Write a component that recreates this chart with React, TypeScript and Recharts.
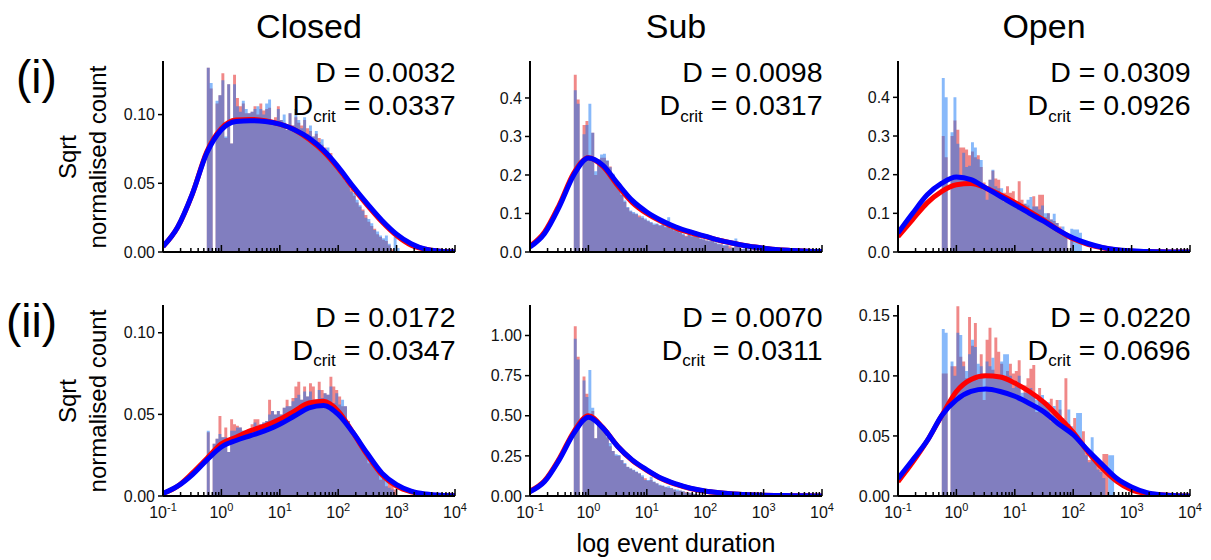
import { ComposedChart, Area, Line, XAxis, YAxis } from 'recharts';

const FONT = '"Liberation Sans", Arial, Helvetica, sans-serif';

// histogram bins are log10 spaced: first bin starts at 10^-0.25, width 0.05 decade
const BIN_START = -0.25;
const BIN_WIDTH = 0.05;

// sample points (log10 duration) of the fitted curves
const fitX = [-1, -0.75, -0.5, -0.25, 0, 0.25, 0.5, 0.75, 1, 1.25, 1.5, 1.75, 2, 2.25, 2.5, 2.75, 3, 3.25, 3.5, 3.75, 4];

const majorTicks = [-1, 0, 1, 2, 3, 4];
const minorSteps = [2, 3, 4, 5, 6, 7, 8, 9];

const titles = ['Closed', 'Sub', 'Open'];
const rowLabels = ['(i)', '(ii)'];

// ---- Closed (i)
const closedBlueI = [0.134, 0.123, 0, 0.110, 0.114, 0.125, 0.084, 0.122, 0.079, 0.122,
  0.106, 0.102, 0.110, 0.104, 0.101, 0.102, 0.104, 0.106, 0.104, 0.100,
  0.108, 0.111, 0.096, 0.095, 0.104, 0.096, 0.100, 0.089, 0.101, 0.092,
  0.104, 0.096, 0.090, 0.098, 0.086, 0.092, 0.084, 0.088, 0.080, 0.082,
  0.074, 0.076, 0.070, 0.066, 0.064, 0.060, 0.057, 0.054, 0.050, 0.044,
  0.043, 0.038, 0.034, 0.030, 0.025, 0.024, 0.021, 0.016, 0.015, 0.012,
  0.010, 0.012, 0.006, 0, 0.011, 0.003];
const closedRedI = [0.134, 0.119, 0, 0.108, 0.114, 0.130, 0.083, 0.122, 0.079, 0.129,
  0.112, 0.106, 0.108, 0.101, 0.101, 0.102, 0.106, 0.100, 0.108, 0.103,
  0.104, 0.105, 0.094, 0.098, 0.106, 0.096, 0.094, 0.089, 0.101, 0.092,
  0.098, 0.094, 0.092, 0.096, 0.090, 0.088, 0.084, 0.086, 0.083, 0.078,
  0.076, 0.072, 0.072, 0.064, 0.062, 0.061, 0.055, 0.052, 0.051, 0.046,
  0.041, 0.036, 0.033, 0.031, 0.027, 0.022, 0.019, 0.017, 0.013, 0.011,
  0.009, 0.008, 0.005, 0.002, 0, 0];
const closedFitBlueI = [0.004, 0.018, 0.042, 0.072, 0.089, 0.095, 0.0955, 0.095, 0.093, 0.089, 0.083, 0.074, 0.062, 0.048, 0.035, 0.023, 0.013, 0.006, 0.002, 0.0006, 0.0001];
const closedFitRedI = [0.004, 0.018, 0.042, 0.073, 0.090, 0.096, 0.0965, 0.0955, 0.093, 0.089, 0.082, 0.073, 0.061, 0.047, 0.034, 0.022, 0.012, 0.005, 0.002, 0.0005, 0.0001];

// ---- Sub (i)
const subBlueI = [0.42, 0.385, 0, 0.306, 0.33, 0.385, 0.31, 0.21, 0.24, 0.253,
  0.255, 0.238, 0.22, 0.203, 0.186, 0.173, 0.15, 0.134, 0.117, 0.108,
  0.104, 0.10, 0.09, 0.093, 0.087, 0.082, 0.078, 0.074, 0.074, 0.07,
  0.075, 0.066, 0.09, 0.062, 0.058, 0.055, 0.053, 0.048, 0.04, 0.05,
  0.042, 0.04, 0.04, 0.036, 0.034, 0.03, 0.03, 0.04, 0.025, 0.022,
  0.02, 0.018, 0.018, 0.01, 0.012, 0.035, 0.015, 0.008, 0.01, 0.008,
  0.006, 0.004, 0.006, 0.003, 0.008, 0.004, 0.015, 0.003];
const subRedI = [0.46, 0.396, 0, 0.33, 0.34, 0.24, 0.31, 0.20, 0.24, 0.245,
  0.245, 0.236, 0.222, 0.2, 0.182, 0.17, 0.148, 0.13, 0.115, 0.105,
  0.1, 0.098, 0.095, 0.088, 0.084, 0.08, 0.076, 0.07, 0.072, 0.068,
  0.07, 0.064, 0.07, 0.06, 0.056, 0.054, 0.05, 0.045, 0.042, 0.05,
  0.04, 0.042, 0.045, 0.034, 0.032, 0.03, 0.028, 0.03, 0.024, 0.02,
  0.02, 0.016, 0.016, 0.015, 0.012, 0.02, 0.025, 0.008, 0.008, 0.006,
  0.006, 0.004, 0.005, 0.002, 0.004, 0.003, 0, 0];
const subFitBlueI = [0.013, 0.048, 0.117, 0.2, 0.244, 0.225, 0.178, 0.134, 0.104, 0.082, 0.065, 0.052, 0.041, 0.03, 0.022, 0.015, 0.01, 0.006, 0.004, 0.002, 0.001];
const subFitRedI = [0.015, 0.052, 0.122, 0.205, 0.245, 0.222, 0.173, 0.129, 0.1, 0.079, 0.062, 0.05, 0.04, 0.03, 0.022, 0.015, 0.01, 0.006, 0.004, 0.002, 0.001];

// ---- Open (i)
const openBlueI = [0.45, 0.40, 0, 0.31, 0.40, 0.28, 0.20, 0.257, 0.22, 0.223,
  0.284, 0.27, 0.24, 0.238, 0.16, 0.135, 0.187, 0.213, 0.17, 0.165,
  0.165, 0.13, 0.14, 0.13, 0.13, 0.12, 0.13, 0.11, 0.125, 0.135,
  0.142, 0.118, 0.118, 0.11, 0.12, 0.10, 0.10, 0.084, 0.099, 0.075,
  0.06, 0.066, 0.045, 0, 0.06, 0.058, 0.058, 0.05];
const openRedI = [0.30, 0.245, 0, 0.30, 0.34, 0.316, 0.27, 0.27, 0.265, 0.25,
  0.26, 0.245, 0.25, 0.22, 0.18, 0.17, 0.187, 0.21, 0.19, 0.187,
  0.15, 0.153, 0.17, 0.153, 0.157, 0.12, 0.183, 0.135, 0.125, 0.12,
  0.11, 0.144, 0.118, 0.148, 0.148, 0.09, 0.1, 0.084, 0.08, 0.075,
  0.066, 0.05, 0.045, 0, 0.04, 0, 0, 0];
const openFitBlueI = [0.049, 0.10, 0.148, 0.178, 0.194, 0.187, 0.166, 0.144, 0.122, 0.10, 0.079, 0.056, 0.036, 0.022, 0.012, 0.006, 0.003, 0.001, 0.0005, 0.0002, 0.0001];
const openFitRedI = [0.04, 0.084, 0.127, 0.157, 0.174, 0.177, 0.166, 0.148, 0.128, 0.105, 0.082, 0.056, 0.034, 0.02, 0.011, 0.005, 0.002, 0.001, 0.0005, 0.0002, 0.0001];

// ---- Closed (ii)
const closedBlueII = [0.040, 0, 0.032, 0.035, 0.038, 0.036, 0.036, 0.027, 0.040, 0.040,
  0.042, 0.042, 0.040, 0.038, 0.041, 0.041, 0.045, 0.043, 0.044, 0.045,
  0.046, 0.050, 0.052, 0.050, 0.052, 0.050, 0.054, 0.055, 0.055, 0.058,
  0.060, 0.062, 0.059, 0.064, 0.061, 0.064, 0.059, 0.059, 0.065, 0.060,
  0.063, 0.062, 0.067, 0.057, 0.063, 0.056, 0.059, 0.055, 0.046, 0.040,
  0.038, 0.035, 0.032, 0.028, 0.026, 0.024, 0.020, 0.018, 0.018, 0.014,
  0.011, 0.012, 0.005, 0.004, 0];
const closedRedII = [0.039, 0, 0.032, 0.035, 0.049, 0.036, 0.042, 0.027, 0.047, 0.044,
  0.043, 0.042, 0.040, 0.040, 0.041, 0.044, 0.047, 0.047, 0.044, 0.045,
  0.046, 0.059, 0.052, 0.050, 0.052, 0.050, 0.054, 0.059, 0.055, 0.060,
  0.067, 0.070, 0.059, 0.067, 0.061, 0.069, 0.067, 0.059, 0.070, 0.065,
  0.063, 0.062, 0.073, 0.067, 0.065, 0.061, 0.055, 0.055, 0.046, 0.040,
  0.038, 0.035, 0.032, 0.030, 0.026, 0.020, 0.020, 0.018, 0.016, 0.010,
  0.011, 0.006, 0.009, 0.008, 0.004];
const closedFitBlueII = [0.0015, 0.006, 0.013, 0.022, 0.030, 0.034, 0.037, 0.040, 0.044, 0.049, 0.054, 0.0555, 0.050, 0.039, 0.026, 0.014, 0.007, 0.003, 0.0012, 0.0004, 0.0001];
const closedFitRedII = [0.0015, 0.006, 0.014, 0.023, 0.032, 0.036, 0.040, 0.043, 0.047, 0.052, 0.057, 0.058, 0.052, 0.039, 0.025, 0.013, 0.006, 0.0025, 0.001, 0.0003, 0.0001];

// ---- Sub (ii)
const subBlueII = [0.98, 0.85, 0, 0.72, 0.617, 0.785, 0.55, 0.36, 0.45, 0.445,
  0.40, 0.37, 0.33, 0.28, 0.26, 0.256, 0.225, 0.205, 0.183, 0.173,
  0.163, 0.152, 0.142, 0.13, 0.10, 0.10, 0.12, 0.09, 0.08, 0.07,
  0.065, 0.058, 0.06, 0.05, 0.04, 0.04, 0.035, 0.03, 0.02, 0.02,
  0.017, 0.012, 0.01, 0.008, 0.006, 0.004, 0.003, 0.004, 0.002, 0.002, 0.001];
const subRedII = [1.058, 0.867, 0, 0.745, 0.637, 0.50, 0.53, 0.36, 0.45, 0.44,
  0.40, 0.365, 0.31, 0.28, 0.25, 0.25, 0.222, 0.2, 0.18, 0.17,
  0.16, 0.15, 0.14, 0.12, 0.11, 0.095, 0.1, 0.088, 0.078, 0.065,
  0.062, 0.055, 0.05, 0.048, 0.04, 0.03, 0.033, 0.028, 0.025, 0.02,
  0.015, 0.012, 0.009, 0.007, 0.005, 0.004, 0.003, 0.002, 0.002, 0.001, 0.001];
const subFitBlueII = [0.027, 0.09, 0.225, 0.39, 0.49, 0.423, 0.31, 0.225, 0.163, 0.11, 0.075, 0.048, 0.031, 0.02, 0.012, 0.008, 0.005, 0.003, 0.002, 0.001, 0.0005];
const subFitRedII = [0.03, 0.095, 0.232, 0.4, 0.50, 0.425, 0.31, 0.222, 0.16, 0.108, 0.073, 0.047, 0.03, 0.02, 0.012, 0.008, 0.005, 0.003, 0.002, 0.001, 0.0005];

// ---- Open (ii)
const openBlueII = [0.139, 0.136, 0, 0.112, 0.100, 0.136, 0.134, 0.108, 0.104, 0.118,
  0.130, 0.124, 0.110, 0.108, 0.100, 0.112, 0.108, 0.115, 0.100, 0.098,
  0.112, 0.118, 0.118, 0.100, 0.090, 0.092, 0.100, 0.086, 0.086, 0.088,
  0.090, 0.086, 0.080, 0.082, 0.084, 0.076, 0.078, 0.062, 0.075, 0.066,
  0.080, 0.065, 0.062, 0.072, 0.058, 0.050, 0.069, 0.069, 0.040, 0.034,
  0.028, 0.049, 0.030, 0.022, 0.020, 0.015, 0, 0.034, 0.034];
const openRedII = [0.102, 0.102, 0, 0.108, 0.108, 0.158, 0.116, 0.112, 0.098, 0.149,
  0.125, 0.144, 0.100, 0.118, 0.080, 0.130, 0.140, 0.105, 0.132, 0.120,
  0.110, 0.100, 0.104, 0.110, 0.102, 0.104, 0.113, 0.080, 0.092, 0.098,
  0.106, 0.109, 0.070, 0.090, 0.080, 0.078, 0.075, 0.081, 0.070, 0.080,
  0.072, 0.060, 0.098, 0.060, 0.055, 0.065, 0.048, 0.044, 0.054, 0.036,
  0.030, 0.032, 0.030, 0.028, 0.022, 0.035, 0.035, 0, 0];
const openFitBlueII = [0.0145, 0.03, 0.046, 0.067, 0.08, 0.087, 0.089, 0.087, 0.083, 0.077, 0.07, 0.06, 0.051, 0.038, 0.026, 0.0145, 0.0075, 0.003, 0.001, 0.0003, 0.0001];
const openFitRedII = [0.012, 0.028, 0.046, 0.067, 0.087, 0.097, 0.1, 0.099, 0.094, 0.087, 0.078, 0.066, 0.053, 0.037, 0.023, 0.012, 0.005, 0.002, 0.001, 0.0003, 0.0001];

const dValues = [['0.0032', '0.0098', '0.0309'], ['0.0172', '0.0070', '0.0220']];
const dCritValues = [['0.0337', '0.0317', '0.0926'], ['0.0347', '0.0311', '0.0696']];

const xTicks: number[] = [];
majorTicks.forEach((m) => {
  xTicks.push(m);
  if (m < 4) minorSteps.forEach((s) => xTicks.push(m + Math.log10(s)));
});

function toSteps(values: number[]) {
  const pts = values.map((v, i) => ({ x: BIN_START + i * BIN_WIDTH, y: v }));
  pts.push({ x: BIN_START + values.length * BIN_WIDTH, y: values[values.length - 1] });
  return pts;
}

function toFit(values: number[]) {
  return fitX.map((x, i) => ({ x, y: values[i] }));
}

const colLeft = [163, 530, 898];
const rowTop = [61, 305];
const PLOT_W = 292;
const PLOT_H = 191;
const Y_AXIS_W = 60;

const panels = [
  { row: 0, col: 0, yMax: 0.139, yTicks: [0, 0.05, 0.1], digits: 2, red: closedRedI, blue: closedBlueI, fitRed: closedFitRedI, fitBlue: closedFitBlueI },
  { row: 0, col: 1, yMax: 0.496, yTicks: [0, 0.1, 0.2, 0.3, 0.4], digits: 1, red: subRedI, blue: subBlueI, fitRed: subFitRedI, fitBlue: subFitBlueI },
  { row: 0, col: 2, yMax: 0.494, yTicks: [0, 0.1, 0.2, 0.3, 0.4], digits: 1, red: openRedI, blue: openBlueI, fitRed: openFitRedI, fitBlue: openFitBlueI },
  { row: 1, col: 0, yMax: 0.117, yTicks: [0, 0.05, 0.1], digits: 2, red: closedRedII, blue: closedBlueII, fitRed: closedFitRedII, fitBlue: closedFitBlueII },
  { row: 1, col: 1, yMax: 1.19, yTicks: [0, 0.25, 0.5, 0.75, 1], digits: 2, red: subRedII, blue: subBlueII, fitRed: subFitRedII, fitBlue: subFitBlueII },
  { row: 1, col: 2, yMax: 0.159, yTicks: [0, 0.05, 0.1, 0.15], digits: 2, red: openRedII, blue: openBlueII, fitRed: openFitRedII, fitBlue: openFitBlueII },
];

function XTick(props: any) {
  const { x, y, payload, showLabel } = props;
  const v = payload.value;
  const major = Math.abs(v - Math.round(v)) < 1e-6;
  return (
    <g>
      <line x1={x} x2={x} y1={y} y2={y - (major ? 7 : 4)} stroke="#000" strokeWidth={1.5} />
      {showLabel && major && (
        <text x={x} y={y + 22} textAnchor="middle" fontSize={16} fill="#111" fontFamily={FONT}>
          10<tspan dy={-7} fontSize={11}>{String(Math.round(v))}</tspan>
        </text>
      )}
    </g>
  );
}

function Panel({ p }: { p: (typeof panels)[number] }) {
  const left = colLeft[p.col] - Y_AXIS_W;
  const top = rowTop[p.row] - 10;
  return (
    <div style={{ position: 'absolute', left, top }}>
      <ComposedChart width={Y_AXIS_W + PLOT_W + 20} height={10 + PLOT_H + 40} margin={{ top: 10, right: 20, bottom: 0, left: 0 }}>
        <Area data={toSteps(p.red)} dataKey="y" type="stepAfter" stroke="none" fill="#e11212" fillOpacity={0.5} isAnimationActive={false} />
        <Area data={toSteps(p.blue)} dataKey="y" type="stepAfter" stroke="none" fill="#1273f5" fillOpacity={0.5} isAnimationActive={false} />
        <Line data={toFit(p.fitRed)} dataKey="y" type="monotone" stroke="#ff0000" strokeWidth={5} dot={false} isAnimationActive={false} />
        <Line data={toFit(p.fitBlue)} dataKey="y" type="monotone" stroke="#0000ff" strokeWidth={5} dot={false} isAnimationActive={false} />
        <XAxis
          dataKey="x"
          type="number"
          domain={[-1, 4]}
          ticks={xTicks}
          interval={0}
          allowDataOverflow
          height={40}
          tickSize={0}
          tickMargin={0}
          tickLine={false}
          axisLine={{ stroke: '#000', strokeWidth: 2 }}
          tick={(tp: any) => <XTick {...tp} showLabel={p.row === 1} />}
        />
        <YAxis
          type="number"
          domain={[0, p.yMax]}
          ticks={p.yTicks}
          interval={0}
          allowDataOverflow
          width={Y_AXIS_W}
          tickSize={5}
          tickMargin={3}
          tickFormatter={(v: number) => v.toFixed(p.digits)}
          axisLine={{ stroke: '#000', strokeWidth: 2 }}
          tickLine={{ stroke: '#000', strokeWidth: 1.5 }}
          tick={{ fill: '#111', fontSize: 16, fontFamily: FONT }}
        />
      </ComposedChart>
    </div>
  );
}

export default function App() {
  const dBase = [81.7, 327];
  const dCritBase = [115, 359.5];
  const yLabelMid = [157, 401];
  return (
    <div style={{ position: 'absolute', left: 0, top: 0, width: 1211, height: 560, background: '#fff', fontFamily: FONT, overflow: 'hidden' }}>
      {panels.map((p, i) => (
        <Panel key={i} p={p} />
      ))}
      <svg width={1211} height={560} style={{ position: 'absolute', left: 0, top: 0, pointerEvents: 'none' }} fontFamily={FONT}>
        {titles.map((t, c) => (
          <text key={t} x={colLeft[c] + PLOT_W / 2} y={38} textAnchor="middle" fontSize={34} fill="#000">{t}</text>
        ))}
        <text x={16} y={93} fontSize={46} fill="#000">{rowLabels[0]}</text>
        <text x={6} y={337} fontSize={46} fill="#000">{rowLabels[1]}</text>
        {yLabelMid.map((m, r) => (
          <g key={r}>
            <text x={76} y={m} transform={`rotate(-90 76 ${m})`} textAnchor="middle" fontSize={24} fill="#000">Sqrt</text>
            <text x={106} y={m} transform={`rotate(-90 106 ${m})`} textAnchor="middle" fontSize={24} fill="#000">normalised count</text>
          </g>
        ))}
        {dValues.map((row, r) =>
          row.map((d, c) => {
            const right = colLeft[c] + PLOT_W + 0.5;
            return (
              <g key={`${r}-${c}`}>
                <text x={right} y={dBase[r]} textAnchor="end" fontSize={28.5} fill="#000">D = {d}</text>
                <text x={right} y={dCritBase[r]} textAnchor="end" fontSize={28.5} fill="#000">
                  D<tspan fontSize={17} dy={6.5}>crit</tspan><tspan dy={-6.5}> = {dCritValues[r][c]}</tspan>
                </text>
              </g>
            );
          })
        )}
        <text x={676} y={552} textAnchor="middle" fontSize={25} fill="#000">log event duration</text>
      </svg>
    </div>
  );
}
